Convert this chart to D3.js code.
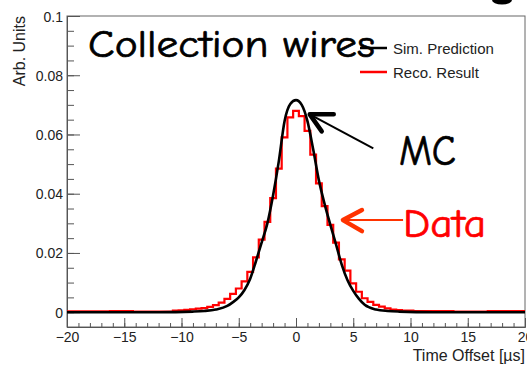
<!DOCTYPE html>
<html lang="en">
<head>
	<meta charset="utf-8">
	<title>Collection wires</title>
	<script type="text/javascript" src="https://d3js.org/d3.v7.min.js"></script>
	<style>
		body { margin: 0; background: #fff; }
		.axis text { font-family: "Liberation Sans", Arial, sans-serif; font-size: 14px; fill: #222; }
		.axis path, .axis line { stroke: #555; }
		.comic { font-family: "Comic Sans MS", "Comic Neue", "DejaVu Sans", sans-serif; stroke-width: 0.7px; }
	</style>
</head>
<body>
	<div id="chart"></div>

	<script type="text/javascript">

		// black curve: simulation prediction (time offset in us, arb. units)
		var simX = [-20, -12, -9, -8, -7, -6, -5.5, -5, -4.5, -4, -3.5, -3, -2.5, -2, -1.5, -1, -0.5, 0,
		            0.5, 1, 1.5, 2, 2.5, 3, 3.5, 4, 4.5, 5, 5.5, 6, 7, 8, 9, 12, 20];
		var simY = [0, 0, 0.0002, 0.0004, 0.0009, 0.0021, 0.0034, 0.005, 0.0075, 0.0113, 0.0172, 0.0235, 0.0300, 0.0395, 0.0510, 0.0645, 0.0703, 0.0716,
		            0.0700, 0.0645, 0.0550, 0.0445, 0.0365, 0.0295, 0.0228, 0.0160, 0.0108, 0.0072, 0.0045, 0.0025, 0.0009, 0.0004, 0.0002, 0, 0];

		// red histogram: reconstructed result, bins of 0.5 us centred on these values
		var recoX = d3.range(-20, 20.01, 0.5);
		var recoY = [
			0.0003, 0.0003, 0.0003, 0.0003, 0.0003, 0.0003, 0.0003, 0.0003,   // -20 .. -16.5
			0.0004, 0.0004, 0.0004, 0.0004,                                   // -16 .. -14.5
			0.0002, 0.0002, 0.0002, 0.0002, 0.0002, 0.0002, 0.0002,           // -14 .. -11
			0.0005, 0.0006, 0.0008, 0.0010, 0.0012, 0.0014, 0.0018, 0.0024,   // -10.5 .. -7
			0.0032, 0.0045, 0.0062, 0.0080, 0.0104, 0.0136, 0.0185, 0.0245,   // -6.5 .. -3
			0.0305, 0.0385, 0.0485, 0.0590, 0.0658, 0.0680,                   // -2.5 .. 0
			0.0662, 0.0612, 0.0532, 0.0435, 0.0358, 0.0295, 0.0235, 0.0178,   // 0.5 .. 4
			0.0140, 0.0097, 0.0069, 0.0047, 0.0035, 0.0025, 0.0019, 0.0013,   // 4.5 .. 8
			0.0009, 0.0007, 0.0005, 0.0005,                                   // 8.5 .. 10
			0.0004, 0.0004, 0.0004, 0.0004, 0.0004, 0.0004, 0.0004,           // 10.5 .. 13.5
			0.0002, 0.0002, 0.0002, 0.0002, 0.0002, 0.0002,                   // 14 .. 16.5
			0.0004, 0.0004, 0.0004, 0.0004, 0.0004, 0.0004, 0.0004            // 17 .. 20
		];

		var xMajor = [-20, -15, -10, -5, 0, 5, 10, 15, 20];
		var yMajor = [0, 0.02, 0.04, 0.06, 0.08, 0.1];
		var legendLabels = ["Sim. Prediction", "Reco. Result"];

		var w = 527,
		    h = 367;

		var svg = d3.select("#chart")
			.append("svg")
			.attr("width", w)
			.attr("height", h);

		var x = d3.scaleLinear().domain([-20, 20]).range([67, 525]);
		var y = d3.scaleLinear().domain([-0.005, 0.1]).range([327, 16]);

		svg.append("clipPath").attr("id", "plot")
			.append("rect")
			.attr("x", x(-20)).attr("y", y(0.1))
			.attr("width", x(20) - x(-20)).attr("height", y(-0.005) - y(0.1));

		// frame
		svg.append("rect")
			.attr("x", x(-20)).attr("y", y(0.1))
			.attr("width", x(20) - x(-20)).attr("height", y(-0.005) - y(0.1))
			.attr("fill", "none")
			.attr("stroke", "#666");

		// y axis, ticks pointing inward
		svg.append("g").attr("class", "axis")
			.attr("transform", "translate(" + x(-20) + ",0)")
			.call(d3.axisLeft(y).tickValues(d3.range(0, 0.1, 0.005)).tickSize(-7).tickSizeOuter(0).tickFormat(""));
		svg.append("g").attr("class", "axis")
			.attr("transform", "translate(" + x(-20) + ",0)")
			.call(d3.axisLeft(y).tickValues(yMajor).tickSize(-13).tickSizeOuter(0).tickPadding(4)
				.tickFormat(function(d) { return d === 0 ? "0" : d3.format(".2~f")(d); }))
			.selectAll("text").attr("dy", "0.36em");

		// x axis, ticks pointing up
		svg.append("g").attr("class", "axis")
			.attr("transform", "translate(0," + y(-0.005) + ")")
			.call(d3.axisBottom(x).tickValues(d3.range(-20, 21, 1)).tickSize(-4).tickSizeOuter(0).tickFormat(""));
		svg.append("g").attr("class", "axis")
			.attr("transform", "translate(0," + y(-0.005) + ")")
			.call(d3.axisBottom(x).tickValues(xMajor).tickSize(-9).tickSizeOuter(0).tickPadding(5).tickFormat(d3.format("d")));

		// axis titles
		svg.append("text")
			.attr("x", 525).attr("y", 361)
			.attr("text-anchor", "end")
			.style("font-family", "'Liberation Sans', Arial, sans-serif")
			.style("font-size", "16px")
			.attr("fill", "#222")
			.text("Time Offset [µs]");

		svg.append("text")
			.attr("transform", "translate(25,16) rotate(-90)")
			.attr("text-anchor", "end")
			.style("font-family", "'Liberation Sans', Arial, sans-serif")
			.style("font-size", "16px")
			.attr("fill", "#222")
			.text("Arb. Units");

		var plot = svg.append("g").attr("clip-path", "url(#plot)");

		// histogram (step line)
		var steps = [];
		recoX.forEach(function(c, i) {
			steps.push([c - 0.25, recoY[i]]);
			steps.push([c + 0.25, recoY[i]]);
		});
		plot.append("path")
			.datum(steps)
			.attr("fill", "none")
			.attr("stroke", "#ff0000")
			.attr("stroke-width", 2.2)
			.attr("d", d3.line().x(function(d) { return x(d[0]); }).y(function(d) { return y(d[1]); }));

		// smooth prediction
		plot.append("path")
			.datum(simX.map(function(v, i) { return [v, simY[i]]; }))
			.attr("fill", "none")
			.attr("stroke", "#000")
			.attr("stroke-width", 2.6)
			.attr("d", d3.line().curve(d3.curveMonotoneX)
				.x(function(d) { return x(d[0]); }).y(function(d) { return y(d[1]); }));

		// title
		svg.append("text")
			.attr("class", "comic")
			.attr("x", 88).attr("y", 57)
			.style("font-size", "38px")
			.attr("stroke", "#000")
			.attr("textLength", 287)
			.attr("lengthAdjust", "spacingAndGlyphs")
			.text("Collection wires");

		// legend
		var legendColors = ["#000", "#ff0000"];
		var leg = svg.selectAll(".legend")
			.data(legendLabels)
			.enter()
			.append("g")
			.attr("class", "legend")
			.attr("transform", function(d, i) { return "translate(360," + (48 + i * 24) + ")"; });
		leg.append("line")
			.attr("x1", 0).attr("x2", 27)
			.attr("stroke", function(d, i) { return legendColors[i]; })
			.attr("stroke-width", 2.5);
		leg.append("text")
			.attr("x", 33).attr("y", 5.5)
			.style("font-family", "'Liberation Sans', Arial, sans-serif")
			.style("font-size", "15px")
			.attr("fill", "#222")
			.text(function(d) { return d; });

		// MC annotation
		var mcTip = [x(1.2), y(0.0668)];
		svg.append("line")
			.attr("x1", mcTip[0]).attr("y1", mcTip[1])
			.attr("x2", x(6.75)).attr("y2", y(0.0553))
			.attr("stroke", "#000").attr("stroke-width", 2);
		svg.append("path")
			.attr("d", "M" + (mcTip[0] + 24) + "," + mcTip[1] + "L" + mcTip[0] + "," + mcTip[1] + "L" + (mcTip[0] + 12) + "," + (mcTip[1] + 17))
			.attr("fill", "none")
			.attr("stroke", "#000").attr("stroke-width", 4.5)
			.attr("stroke-linecap", "round").attr("stroke-linejoin", "round");
		svg.append("text")
			.attr("class", "comic")
			.attr("x", 399).attr("y", 165)
			.style("font-size", "42px")
			.attr("stroke", "#000")
			.attr("textLength", 57)
			.attr("lengthAdjust", "spacingAndGlyphs")
			.text("MC");

		// Data annotation
		var dTip = [x(4.1), y(0.0311)];
		svg.append("line")
			.attr("x1", dTip[0]).attr("y1", dTip[1])
			.attr("x2", x(9.35)).attr("y2", dTip[1])
			.attr("stroke", "#ff3300").attr("stroke-width", 2);
		svg.append("path")
			.attr("d", "M" + (dTip[0] + 19) + "," + (dTip[1] - 10) + "L" + dTip[0] + "," + dTip[1] + "L" + (dTip[0] + 19) + "," + (dTip[1] + 11))
			.attr("fill", "none")
			.attr("stroke", "#ff3300").attr("stroke-width", 4.5)
			.attr("stroke-linecap", "round").attr("stroke-linejoin", "round");
		svg.append("text")
			.attr("class", "comic")
			.attr("x", 403).attr("y", 237)
			.style("font-size", "40px")
			.attr("fill", "#ff0000")
			.attr("stroke", "#ff0000")
			.attr("textLength", 83)
			.attr("lengthAdjust", "spacingAndGlyphs")
			.text("Data");

		// bit of the slide heading cut off at the top
		svg.append("ellipse")
			.attr("cx", 502).attr("cy", 0)
			.attr("rx", 10).attr("ry", 4.5)
			.attr("fill", "#000");
	</script>
</body>
</html>
